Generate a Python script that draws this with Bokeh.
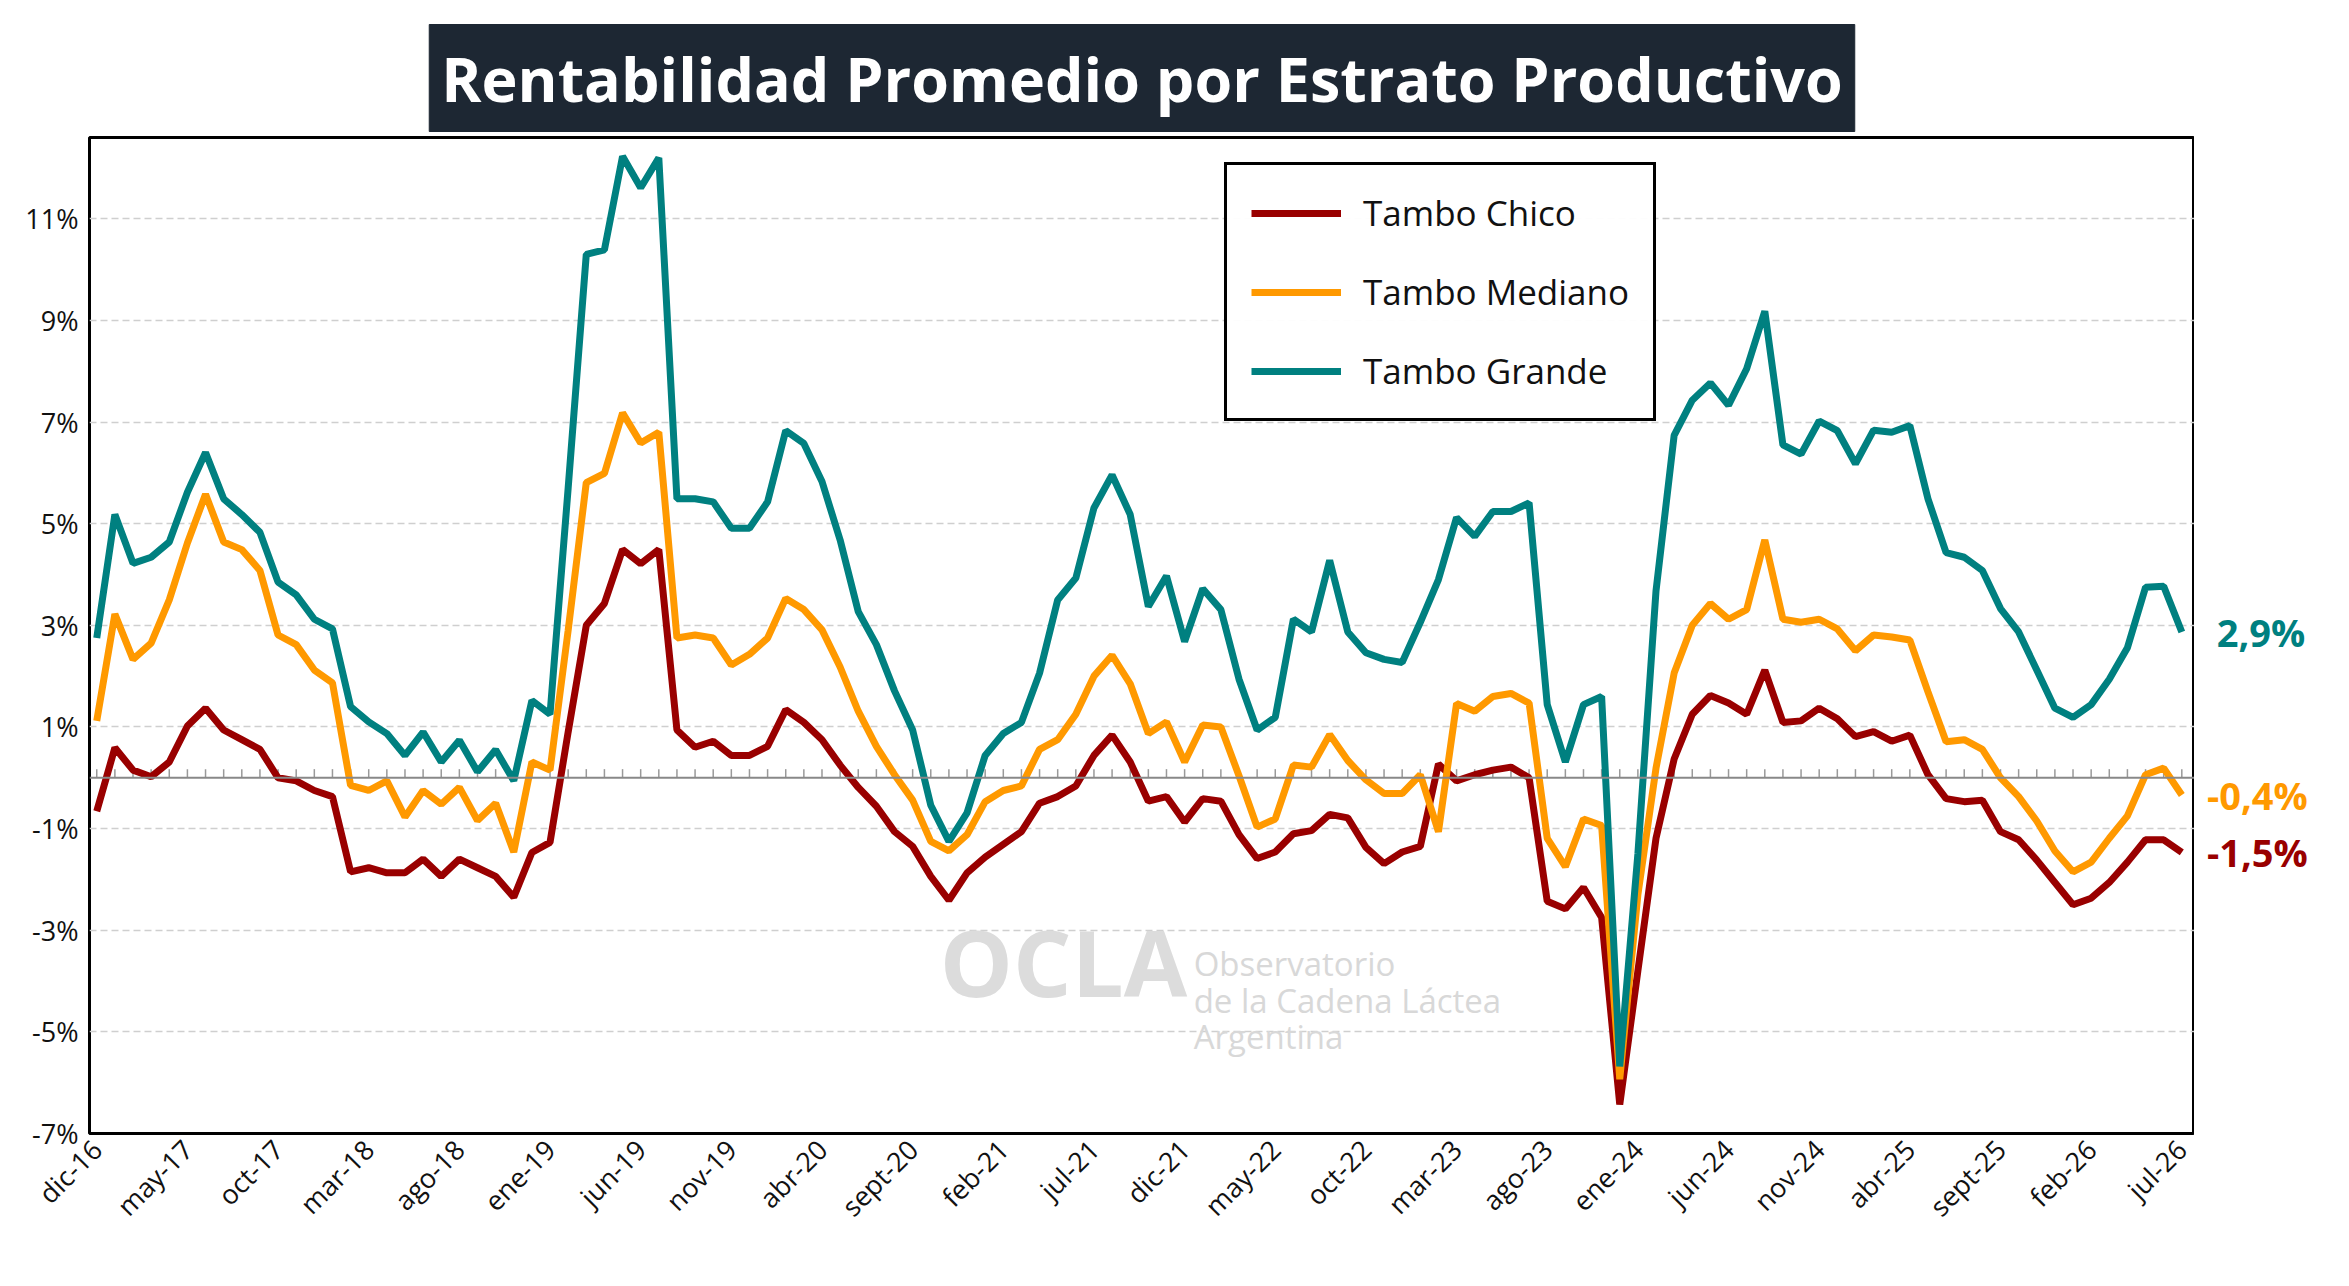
from bokeh.plotting import figure
from bokeh.models import (ColumnDataSource, FixedTicker, Legend, LegendItem, Label, Span, Title)
from bokeh.layouts import row
from bokeh.core.properties import value
from bokeh.embed import file_html
from bokeh.resources import INLINE
import math

months_es = ["ene", "feb", "mar", "abr", "may", "jun", "jul", "ago", "sept", "oct", "nov", "dic"]

chico = [-0.66,0.59,0.15,0.02,0.31,1.02,1.37,0.94,0.75,0.56,0.00,-0.06,-0.25,-0.37,-1.85,-1.77,-1.87,-1.87,-1.60,-1.94,
         -1.60,-1.77,-1.94,-2.35,-1.47,-1.27,0.9,3.00,3.43,4.49,4.21,4.49,0.94,0.60,0.72,0.44,0.44,0.62,1.34,1.09,
         0.75,0.25,-0.19,-0.56,-1.06,-1.35,-1.94,-2.41,-1.87,-1.56,-1.31,-1.06,-0.50,-0.37,-0.16,0.44,0.84,0.31,-0.46,-0.37,
         -0.87,-0.41,-0.46,-1.12,-1.59,-1.46,-1.10,-1.04,-0.72,-0.79,-1.37,-1.69,-1.46,-1.35,0.27,-0.06,0.06,0.15,0.21,0.00,
         -2.43,-2.58,-2.16,-2.75,-6.43,-3.8,-1.19,0.37,1.25,1.62,1.47,1.25,2.12,1.09,1.12,1.37,1.16,0.81,0.91,0.72,
         0.84,0.06,-0.41,-0.47,-0.44,-1.06,-1.22,-1.62,-2.06,-2.50,-2.37,-2.06,-1.66,-1.22,-1.22,-1.47]
mediano = [1.12,3.22,2.33,2.65,3.50,4.62,5.58,4.64,4.49,4.08,2.81,2.62,2.12,1.87,-0.15,-0.25,-0.06,-0.77,-0.25,-0.52,
           -0.19,-0.84,-0.50,-1.46,0.31,0.15,2.9,5.81,5.99,7.18,6.59,6.80,2.75,2.81,2.75,2.22,2.43,2.75,3.53,3.31,
           2.91,2.18,1.31,0.62,0.06,-0.44,-1.25,-1.44,-1.12,-0.47,-0.25,-0.16,0.56,0.75,1.25,2.00,2.41,1.85,0.87,1.10,
           0.31,1.04,1.00,0.04,-0.97,-0.81,0.25,0.21,0.85,0.34,-0.04,-0.31,-0.31,0.06,-1.06,1.46,1.31,1.60,1.66,1.47,
           -1.19,-1.75,-0.81,-0.94,-5.93,-2.3,0.19,2.06,3.00,3.43,3.12,3.31,4.68,3.12,3.06,3.12,2.93,2.50,2.81,2.77,
           2.71,1.69,0.71,0.75,0.56,0.00,-0.37,-0.85,-1.44,-1.85,-1.66,-1.19,-0.75,0.06,0.19,-0.34]
grande = [2.75,5.18,4.22,4.34,4.64,5.62,6.40,5.49,5.18,4.83,3.85,3.60,3.12,2.93,1.40,1.10,0.87,0.44,0.90,0.31,
          0.74,0.12,0.55,-0.06,1.52,1.25,5.7,10.30,10.39,12.23,11.61,12.20,5.49,5.49,5.43,4.91,4.91,5.43,6.83,6.58,
          5.83,4.68,3.27,2.62,1.71,0.94,-0.54,-1.25,-0.69,0.44,0.87,1.09,2.06,3.50,3.93,5.31,5.96,5.18,3.37,3.97,
          2.68,3.72,3.31,1.94,0.94,1.19,3.12,2.87,4.28,2.87,2.46,2.33,2.27,3.06,3.90,5.12,4.75,5.24,5.24,5.41,
          1.44,0.31,1.44,1.60,-5.68,-1.5,3.68,6.74,7.43,7.77,7.33,8.05,9.18,6.55,6.37,7.02,6.83,6.18,6.84,6.80,
          6.93,5.49,4.43,4.34,4.08,3.33,2.87,2.12,1.37,1.19,1.44,1.94,2.56,3.75,3.77,2.87]

labels = []
for i in range(len(chico)):
    m = (11 + i) % 12
    y = 16 + (11 + i) // 12
    labels.append(f"{months_es[m]}-{y:02d}")
idx = list(range(len(chico)))
tick_idx = list(range(0, len(chico), 5))
y_ticks = [-7, -5, -3, -1, 1, 3, 5, 7, 9, 11]
end_labels = ["-1,5%", "-0,4%", "2,9%"]

COL_C, COL_M, COL_G = "#990000", "#ff9900", "#008080"
FONT = "Open Sans"
TOP, BOT = 137, 137

src = ColumnDataSource(dict(x=idx, c=chico, m=mediano, g=grande))

p = figure(width=2194, height=1270, output_backend="svg", toolbar_location=None,
           x_range=(-0.4, 115.7), y_range=(-7, 12.6),
           min_border_left=89, min_border_right=0, min_border_top=TOP, min_border_bottom=BOT)
p.title = Title(text="Rentabilidad Promedio por Estrato Productivo", align="center",
                text_font=FONT, text_font_style="bold", text_font_size="61px",
                text_color="white", background_fill_color="#1d2733",
                border_line_color="#1d2733", padding=12, standoff=12)

p.outline_line_color = "black"
p.outline_line_alpha = 1
p.outline_line_width = 3
p.xgrid.visible = False
p.ygrid.ticker = FixedTicker(ticks=y_ticks)
p.ygrid.grid_line_color = "#cfcfcf"
p.ygrid.grid_line_dash = "7 4"
p.ygrid.grid_line_width = 1.5

p.yaxis.ticker = FixedTicker(ticks=y_ticks)
p.yaxis.major_label_overrides = {v: f"{v}%" for v in y_ticks}
p.yaxis.major_label_text_font = FONT
p.yaxis.major_label_text_font_size = "27px"
p.yaxis.major_label_text_color = "#111111"
p.yaxis.major_tick_line_color = None
p.yaxis.minor_tick_line_color = None
p.yaxis.axis_line_color = None

p.xaxis.ticker = FixedTicker(ticks=tick_idx)
p.xaxis.major_label_overrides = {i: labels[i] for i in tick_idx}
p.xaxis.major_label_orientation = math.pi / 4
p.xaxis.major_label_text_font = FONT
p.xaxis.major_label_text_font_size = "27px"
p.xaxis.major_label_text_color = "#111111"
p.xaxis.major_tick_line_color = None
p.xaxis.minor_tick_line_color = None
p.xaxis.axis_line_color = None

p.add_layout(Span(location=0, dimension="width", line_color="#888888", line_width=2))
p.segment(x0="x", y0=0, x1="x", y1=0.17, source=src, line_color="#999999", line_width=1.5)

p.add_layout(Label(x=46.5, y=-4.85, text="OCLA", text_font=FONT, text_font_style="bold",
                   text_font_size="92px", text_color="#dcdcdc"))
for k, t in enumerate(["Observatorio", "de la Cadena Láctea", "Argentina"]):
    p.add_layout(Label(x=60.5, y=-4.1 - k * 0.72, text=t, text_font=FONT,
                       text_font_size="33px", text_color="#d8d8d8"))

rc = p.line("x", "c", source=src, line_color=COL_C, line_width=7)
rm = p.line("x", "m", source=src, line_color=COL_M, line_width=7)
rg = p.line("x", "g", source=src, line_color=COL_G, line_width=7)

leg = Legend(items=[LegendItem(label="Tambo Chico", renderers=[rc]),
                    LegendItem(label="Tambo Mediano", renderers=[rm]),
                    LegendItem(label="Tambo Grande", renderers=[rg])],
             location=(1135, 712), label_text_font=FONT, label_text_font_size="35px",
             label_text_color="#111111",
             glyph_width=90, glyph_height=42, spacing=32, padding=24, margin=0,
             border_line_color="black", border_line_alpha=1, border_line_width=3, label_standoff=22)
p.add_layout(leg)

# side panel with end-of-series labels, sharing the y range
side = figure(width=139, height=1270, output_backend="svg", toolbar_location=None,
              x_range=(0, 1), y_range=p.y_range,
              min_border_left=0, min_border_right=0, min_border_top=TOP, min_border_bottom=BOT)
side.axis.visible = False
side.grid.visible = False
side.outline_line_color = None
end_src = ColumnDataSource(dict(y=[chico[-1], mediano[-1], grande[-1]], t=end_labels,
                                col=[COL_C, COL_M, COL_G], x=[0.09, 0.09, 0.16]))
side.text(x="x", y="y", text="t", text_color="col", source=end_src,
          text_font=value(FONT), text_font_style="bold", text_font_size="38px",
          text_baseline="middle", text_align="left")

open("out.html", "w").write(file_html(row(p, side, spacing=0), INLINE))
